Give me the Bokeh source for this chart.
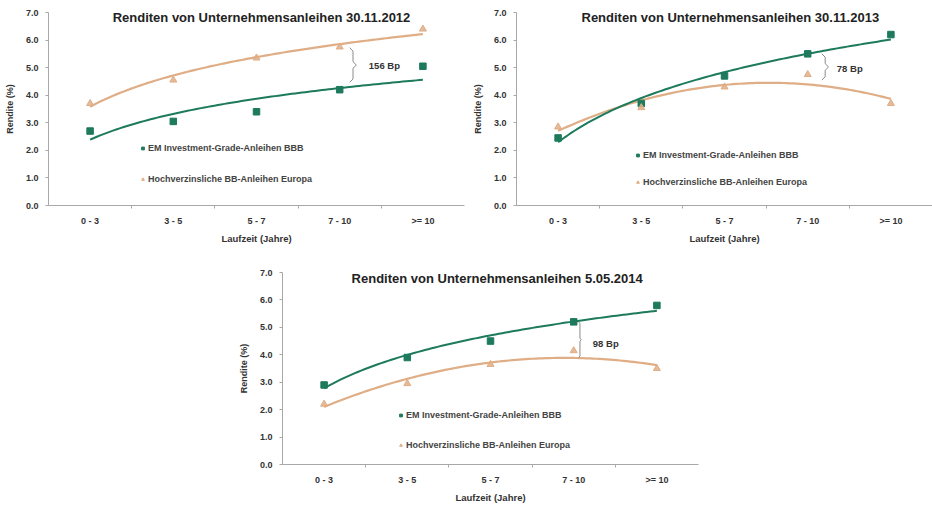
import numpy as np
from bokeh.plotting import figure
from bokeh.models import Range1d, FixedTicker, Label, Legend, LegendItem, Spacer, PrintfTickFormatter
from bokeh.layouts import column, row
from bokeh.embed import file_html
from bokeh.resources import INLINE

# ---------------- data ----------------
categories = ["0 - 3", "3 - 5", "5 - 7", "7 - 10", ">= 10"]
titles = ["Renditen von Unternehmensanleihen 30.11.2012",
          "Renditen von Unternehmensanleihen 30.11.2013",
          "Renditen von Unternehmensanleihen 5.05.2014"]
series_names = ["EM Investment-Grade-Anleihen BBB",
                "Hochverzinsliche BB-Anleihen Europa"]
em_2012 = [2.7, 3.05, 3.4, 4.2, 5.05]
hy_2012 = [3.7, 4.55, 5.35, 5.75, 6.4]
em_2013 = [2.45, 3.7, 4.7, 5.5, 6.2]
hy_2013 = [2.85, 3.55, 4.3, 4.75, 3.7]
em_2014 = [2.9, 3.9, 4.5, 5.2, 5.8]
hy_2014 = [2.2, 2.95, 3.65, 4.15, 3.5]
spread_labels = ["156 Bp", "78 Bp", "98 Bp"]
# trend-line types used in the source (Excel style trend lines)
em_trend = ["log", "log", "log"]
hy_trend = ["log", "poly", "poly"]

GREEN = "#1d7a5c"
TAN = "#dfae86"
FONT = "Liberation Sans"
AXIS_GRAY = "#a8a8a8"
TEXT = "#333333"

positions = [i + 0.5 for i in range(len(categories))]


def trend(vals, kind):
    n = np.arange(1, len(vals) + 1, dtype=float)
    xs = np.linspace(1, len(vals), 100)
    if kind == "log":
        c = np.polyfit(np.log(n), vals, 1)
        ys = np.polyval(c, np.log(xs))
    else:
        c = np.polyfit(n, vals, 2)
        ys = np.polyval(c, xs)
    return xs - 0.5, ys


def make_chart(width, height, bl, br, bt, bb, title, title_xy, em, hy, kinds,
               brace, spread, spread_xy, legend_xy, legend_spacing):
    p = figure(width=width, height=height, output_backend="svg", toolbar_location=None,
               x_range=Range1d(0, len(categories)), y_range=Range1d(0, 7),
               min_border_left=bl, min_border_right=br, min_border_top=bt,
               min_border_bottom=bb, background_fill_color="white",
               border_fill_color="white")
    p.outline_line_color = None
    p.grid.visible = False

    # x axis: labels at category centres, small ticks at boundaries
    xa = p.xaxis[0]
    xa.ticker = FixedTicker(ticks=positions,
                            minor_ticks=list(range(1, len(categories))))
    xa.major_label_overrides = {pos: lab for pos, lab in zip(positions, categories)}
    xa.major_tick_line_color = None
    xa.major_tick_out = 3
    xa.major_tick_in = 0
    xa.minor_tick_line_color = AXIS_GRAY
    xa.minor_tick_out = 3
    xa.minor_tick_in = 0
    xa.axis_line_color = AXIS_GRAY
    xa.major_label_text_font = FONT
    xa.major_label_text_font_style = "bold"
    xa.major_label_text_font_size = "9px"
    xa.major_label_text_color = TEXT
    xa.major_label_standoff = 7
    xa.axis_label = "Laufzeit (Jahre)"
    xa.axis_label_text_font = FONT
    xa.axis_label_text_font_style = "bold"
    xa.axis_label_text_font_size = "9.5px"
    xa.axis_label_text_color = TEXT
    xa.axis_label_standoff = 4

    ya = p.yaxis[0]
    ya.ticker = FixedTicker(ticks=[0, 1, 2, 3, 4, 5, 6, 7])
    ya.formatter = PrintfTickFormatter(format="%.1f")
    ya.axis_line_color = AXIS_GRAY
    ya.major_tick_line_color = AXIS_GRAY
    ya.major_tick_out = 3
    ya.major_tick_in = 0
    ya.minor_tick_line_color = None
    ya.major_label_text_font = FONT
    ya.major_label_text_font_style = "bold"
    ya.major_label_text_font_size = "9px"
    ya.major_label_text_color = TEXT
    ya.major_label_standoff = 7
    ya.axis_label = "Rendite (%)"
    ya.axis_label_text_font = FONT
    ya.axis_label_text_font_style = "bold"
    ya.axis_label_text_font_size = "9px"
    ya.axis_label_text_color = TEXT
    ya.axis_label_standoff = 8

    # trend lines
    tx, ty = trend(hy, kinds[1])
    p.line(tx, ty, line_color=TAN, line_width=2.2)
    tx, ty = trend(em, kinds[0])
    p.line(tx, ty, line_color=GREEN, line_width=2)

    # markers
    r_em = p.scatter(positions, em, marker="square", size=6.5, fill_color=GREEN,
                     line_color=GREEN)
    r_hy = p.scatter(positions, hy, marker="triangle", size=7, fill_color=TAN,
                     line_color=TAN, fill_alpha=0.85)

    # brace
    bx, ybot, ytop, d, e = brace
    mid = (ybot + ytop) / 2
    p.line([bx, bx + d, bx + d, bx + 2 * d, bx + d, bx + d, bx],
           [ytop, ytop - e, mid + e, mid, mid - e, ybot + e, ybot],
           line_color="#8a8a8a", line_width=1)
    p.add_layout(Label(x=spread_xy[0], y=spread_xy[1], text=spread,
                       text_font=FONT, text_font_style="bold",
                       text_font_size="9.5px", text_color=TEXT,
                       text_baseline="middle", text_align="left"))

    # title inside the plot
    p.add_layout(Label(x=title_xy[0], y=title_xy[1], text=title,
                       text_font=FONT, text_font_style="bold",
                       text_font_size="13px", text_color="#222222",
                       text_baseline="middle", text_align="center"))

    legend = Legend(items=[LegendItem(label=series_names[0], renderers=[r_em]),
                           LegendItem(label=series_names[1], renderers=[r_hy])],
                    location=legend_xy, orientation="vertical",
                    spacing=legend_spacing, padding=0, margin=0,
                    glyph_width=7, glyph_height=8, label_height=8,
                    label_standoff=2, border_line_color=None,
                    background_fill_alpha=0,
                    label_text_font=FONT, label_text_font_style="bold",
                    label_text_font_size="9px", label_text_color="#444444")
    p.add_layout(legend)
    return p


p1 = make_chart(466, 255, 48, 2, 12, 50, titles[0], (2.56, 6.82), em_2012, hy_2012,
                (em_trend[0], hy_trend[0]), (3.62, 4.47, 5.72, 0.04, 0.12),
                spread_labels[0], (3.85, 5.08), (91, 21), 21)
p2 = make_chart(466, 255, 50, 0, 12, 50, titles[1], (2.57, 6.83), em_2013, hy_2013,
                (em_trend[1], hy_trend[1]), (3.67, 4.55, 5.5, 0.04, 0.12),
                spread_labels[1], (3.85, 4.97), (118, 18), 17)
p3 = make_chart(470, 250, 52, 2, 17, 39, titles[2], (2.58, 6.78), em_2014, hy_2014,
                (em_trend[2], hy_trend[2]), (3.56, 3.9, 5.2, 0.015, 0.06),
                spread_labels[2], (3.73, 4.4), (115, 14), 20)

layout = column(row(p1, p2, spacing=0),
                row(Spacer(width=230, height=250), p3, spacing=0), spacing=0)

open("out.html", "w").write(file_html(layout, INLINE))
